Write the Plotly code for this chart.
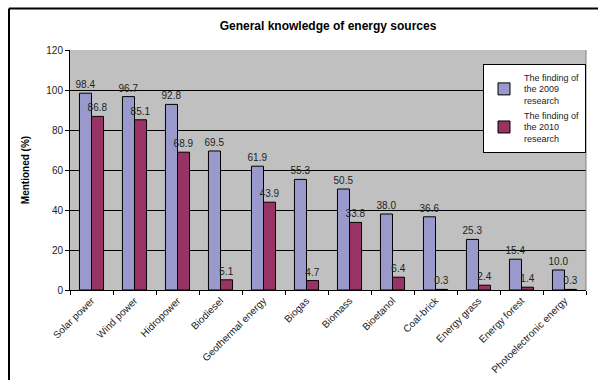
import plotly.graph_objects as go

categories = ["Solar power", "Wind power", "Hidropower", "Biodiesel", "Geothermal energy",
              "Biogas", "Biomass", "Bioetanol", "Coal-brick", "Energy grass",
              "Energy forest", "Photoelectronic energy"]
values_2009 = [98.4, 96.7, 92.8, 69.5, 61.9, 55.3, 50.5, 38.0, 36.6, 25.3, 15.4, 10.0]
values_2010 = [86.8, 85.1, 68.9, 5.1, 43.9, 4.7, 33.8, 6.4, 0.3, 2.4, 1.4, 0.3]
series_names = ["The finding of<br>the 2009<br>research", "The finding of<br>the 2010<br>research"]
y_ticks = [0, 20, 40, 60, 80, 100, 120]

FONT = "Liberation Sans, Arial, sans-serif"
W, H = 601, 387
L, R, T, B = 70, 15, 50, 94
pw, ph = W - L - R, H - T - B


def px_x(p):
    return (p - L) / pw


def px_y(p):
    return (H - B - p) / ph


fig = go.Figure()
for name, vals, color in [(series_names[0], values_2009, "#9999CC"),
                          (series_names[1], values_2010, "#993366")]:
    fig.add_trace(go.Bar(
        x=categories, y=vals, name=name,
        marker=dict(color=color, line=dict(color="black", width=1)),
        texttemplate="%{y:.1f}", textposition="outside",
        textfont=dict(family=FONT, size=10, color="#222222"),
        cliponaxis=False,
    ))

fig.update_layout(
    width=W, height=H,
    margin=dict(l=L, r=R, t=T, b=B),
    paper_bgcolor="white",
    plot_bgcolor="#C0C0C0",
    barmode="group",
    bargap=0.44, bargroupgap=0,
    font=dict(family=FONT, size=10, color="black"),
    title=dict(text="<b>General knowledge of energy sources</b>",
               x=0.5, xref="paper", xanchor="center",
               y=1 - 26 / H, yanchor="middle",
               font=dict(family=FONT, size=12, color="black")),
    showlegend=True,
    legend=dict(x=px_x(483), y=px_y(64), xanchor="left", yanchor="top",
                bgcolor="white", bordercolor="black", borderwidth=1,
                font=dict(family=FONT, size=9, color="#222222"),
                itemwidth=30, tracegroupgap=10),
    uniformtext=dict(minsize=10, mode="show"),
)

fig.update_xaxes(
    type="category", tickangle=-45, tickson="boundaries",
    ticks="outside", ticklen=4, tickcolor="black",
    showline=True, linecolor="black", linewidth=1,
    showgrid=False, tickfont=dict(family=FONT, size=10, color="#222222"),
)
fig.update_yaxes(
    range=[0, 120], tickvals=y_ticks, ticks="outside", ticklen=4, tickcolor="black",
    showline=True, linecolor="black", linewidth=1,
    showgrid=True, gridcolor="black", gridwidth=1, zeroline=False,
    tickfont=dict(family=FONT, size=10, color="#222222"),
    title=dict(text="<b>Mentioned (%)</b>", standoff=14,
               font=dict(family=FONT, size=10, color="black")),
)

# outer chart frame: left and top edges, kept inside the page bounds
frame = dict(color="black", width=2)
fig.add_shape(type="line", xref="paper", yref="paper",
              x0=px_x(9), x1=px_x(9), y0=px_y(H - 3), y1=px_y(8), line=frame)
fig.add_shape(type="line", xref="paper", yref="paper",
              x0=px_x(9), x1=px_x(W - 3), y0=px_y(8), y1=px_y(8), line=frame)
# thin right border of the plot area
fig.add_shape(type="line", xref="paper", yref="paper", x0=1, x1=1, y0=0, y1=1,
              line=dict(color="#808080", width=1))

fig.write_html("out.html")
